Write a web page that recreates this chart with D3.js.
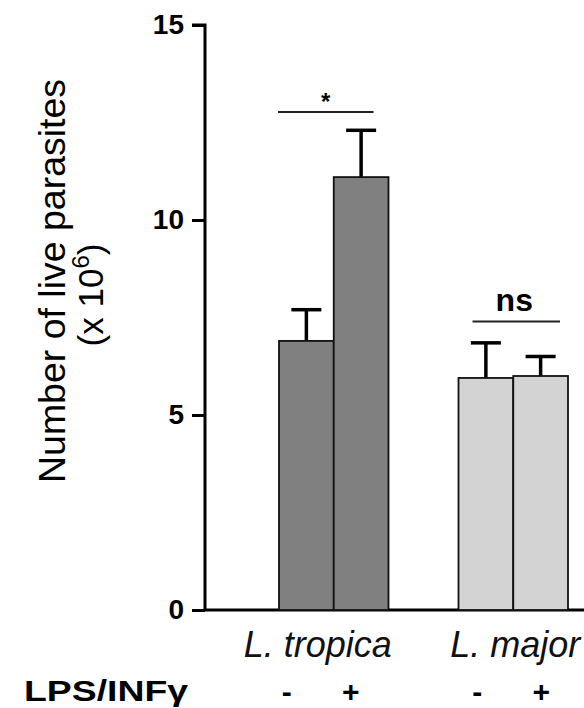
<!DOCTYPE html>
<html>
<head>
<meta charset="utf-8">
<script src="https://cdn.jsdelivr.net/npm/d3@7"></script>
<style>
  body { margin: 0; background: #fff; }
  text { font-family: "Liberation Sans", Arial, sans-serif; }
</style>
</head>
<body>
<svg id="chart" width="584" height="708"></svg>
<script>
// data
var groups = ["L. tropica", "L. major"];
var treatments = ["-", "+"];
var means = [6.9, 11.1, 5.95, 6.0];
var errors = [0.8, 1.2, 0.9, 0.5];
var fills = ["#808080", "#808080", "#d3d3d3", "#d3d3d3"];
var yTicks = [0, 5, 10, 15];
var sigLabels = ["*", "ns"];

var svg = d3.select("svg#chart");

var y = d3.scaleLinear().domain([0, 15]).range([610, 25]);
// one band per group, two bars inside
var x0 = d3.scaleBand().domain(groups).range([279, 568]).paddingInner(0.39);
var x1 = d3.scaleBand().domain(treatments).range([0, x0.bandwidth()]);

var bars = [];
groups.forEach(function (g, gi) {
  treatments.forEach(function (t, ti) {
    var i = gi * 2 + ti;
    bars.push({group: g, gi: gi, treat: t, mean: means[i], err: errors[i], fill: fills[i]});
  });
});

// y axis
var yAxis = d3.axisLeft(y).tickValues(yTicks).tickSize(13).tickPadding(8);
var gy = svg.append("g").attr("transform", "translate(205,0)").call(yAxis);
gy.select(".domain").attr("stroke-width", 3).attr("d", "M-13,25H0V611");
gy.selectAll(".tick line").attr("stroke-width", 3);
gy.selectAll(".tick text")
  .style("font-size", "28px").style("font-weight", "bold")
  .attr("fill", "#000").attr("font-family", null);

// x axis line
svg.append("line")
  .attr("x1", 204).attr("x2", 584)
  .attr("y1", y(0)).attr("y2", y(0))
  .attr("stroke", "#000").attr("stroke-width", 3);

// error bars (drawn under the bars)
var eb = svg.append("g").selectAll("g").data(bars).enter().append("g")
  .attr("transform", function (d) { return "translate(" + (x0(d.group) + x1(d.treat) + x1.bandwidth() / 2) + ",0)"; });
eb.append("line")
  .attr("y1", function (d) { return y(d.mean); })
  .attr("y2", function (d) { return y(d.mean + d.err); })
  .attr("stroke", "#000").attr("stroke-width", 3.5);
eb.append("line")
  .attr("x1", -15).attr("x2", 15)
  .attr("y1", function (d) { return y(d.mean + d.err); })
  .attr("y2", function (d) { return y(d.mean + d.err); })
  .attr("stroke", "#000").attr("stroke-width", 3.5);

// bars
svg.append("g").selectAll("rect").data(bars).enter().append("rect")
  .attr("x", function (d) { return x0(d.group) + x1(d.treat); })
  .attr("width", x1.bandwidth())
  .attr("y", function (d) { return y(d.mean); })
  .attr("height", function (d) { return y(0) - y(d.mean); })
  .attr("fill", function (d) { return d.fill; })
  .attr("stroke", "#111").attr("stroke-width", 1.8);

// significance lines
var sigY = [12.77, 7.4];
var sg = svg.append("g").selectAll("g").data(groups).enter().append("g");
sg.append("line")
  .attr("x1", function (d, i) { return x0(d) - 1 + (i ? 15 : 0); })
  .attr("x2", function (d, i) { return x0(d) + x0.bandwidth() - (i ? 8 : 15); })
  .attr("y1", function (d, i) { return y(sigY[i]); })
  .attr("y2", function (d, i) { return y(sigY[i]); })
  .attr("stroke", "#222").attr("stroke-width", 2);
sg.append("text")
  .attr("x", function (d, i) { return x0(d) + x0.bandwidth() / 2 + (i ? 1 : -8); })
  .attr("y", function (d, i) { return y(sigY[i]) + (i ? -10 : -2); })
  .attr("text-anchor", "middle")
  .style("font-size", function (d, i) { return i ? "32px" : "24px"; })
  .style("font-weight", "bold")
  .text(function (d, i) { return sigLabels[i]; });

// group labels
var labelShift = [-16, 2];
svg.append("g").selectAll("text").data(groups).enter().append("text")
  .attr("x", function (d, i) { return x0(d) + x0.bandwidth() / 2 + labelShift[i]; })
  .attr("y", 657)
  .attr("text-anchor", "middle")
  .style("font-size", "36px").style("font-style", "italic")
  .attr("fill", "#111")
  .text(function (d) { return d; });

// treatment signs
var signShift = [-15, -4];
svg.append("g").selectAll("text").data(bars).enter().append("text")
  .attr("x", function (d) { return x0(d.group) + x0.bandwidth() / 2 + signShift[d.gi] + (d.treat == "-" ? -32 : 32); })
  .attr("y", 702)
  .attr("text-anchor", "middle")
  .style("font-size", "30px").style("font-weight", "bold")
  .text(function (d) { return d.treat; });

svg.append("text")
  .attr("x", 24).attr("y", 701)
  .style("font-size", "30px").style("font-weight", "bold")
  .attr("textLength", 164).attr("lengthAdjust", "spacingAndGlyphs")
  .text("LPS/INFγ");

// y title
var yt = svg.append("g").attr("transform", "translate(0,281) rotate(-90)");
yt.append("text")
  .attr("x", 0).attr("y", 65)
  .attr("text-anchor", "middle")
  .style("font-size", "37px")
  .attr("textLength", 404).attr("lengthAdjust", "spacingAndGlyphs")
  .text("Number of live parasites");
var t2 = yt.append("g").attr("transform", "translate(-14,0)");
var t2t = t2.append("text")
  .attr("x", 0).attr("y", 103)
  .attr("text-anchor", "middle")
  .style("font-size", "35px");
t2t.append("tspan").text("(x 10");
t2t.append("tspan").attr("dy", -14).style("font-size", "24px").text("6");
t2t.append("tspan").attr("dy", 14).text(")");
</script>
</body>
</html>
